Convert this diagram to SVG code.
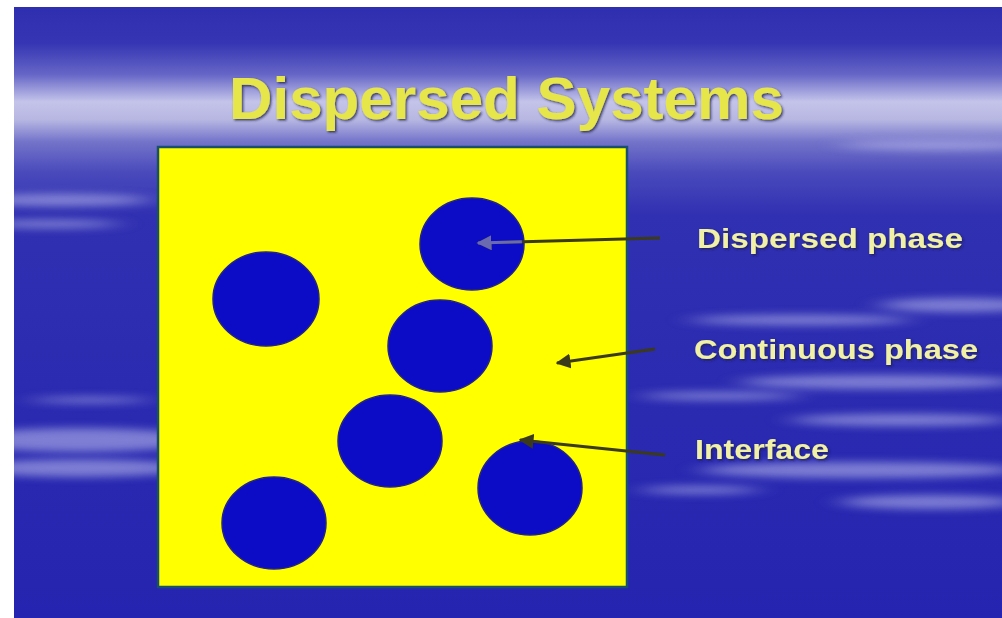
<svg xmlns="http://www.w3.org/2000/svg" width="1002" height="618" viewBox="0 0 1002 618">
  <defs>
    <linearGradient id="bg" x1="0" y1="0" x2="0" y2="1">
      <stop offset="0" stop-color="#2e2eb0"/>
      <stop offset="0.06" stop-color="#3636b4"/>
      <stop offset="0.11" stop-color="#6565c6"/>
      <stop offset="0.155" stop-color="#c4c4ea"/>
      <stop offset="0.185" stop-color="#b6b6e2"/>
      <stop offset="0.22" stop-color="#7474ca"/>
      <stop offset="0.27" stop-color="#4a4abc"/>
      <stop offset="0.34" stop-color="#3030b2"/>
      <stop offset="1" stop-color="#2424b0"/>
    </linearGradient>
    <filter id="blur" x="-30%" y="-300%" width="160%" height="700%">
      <feGaussianBlur stdDeviation="14 4"/>
    </filter>
    <filter id="shadow" x="-5%" y="-20%" width="110%" height="140%">
      <feDropShadow dx="1.5" dy="1.5" stdDeviation="1" flood-color="#202050" flood-opacity="0.8"/>
    </filter>
    <marker id="arrow" viewBox="0 0 10 10" refX="9" refY="5" markerWidth="5" markerHeight="5" orient="auto">
      <path d="M0,0 L10,5 L0,10 z" fill="#3b3a1a"/>
    </marker>
    <marker id="arrowGrey" viewBox="0 0 10 10" refX="9" refY="5" markerWidth="5" markerHeight="5" orient="auto">
      <path d="M0,0 L10,5 L0,10 z" fill="#6a6ab0"/>
    </marker>
    <clipPath id="clipTop">
      <ellipse cx="472" cy="244" rx="50" ry="44"/>
    </clipPath>
    <clipPath id="clipBg">
      <rect x="14" y="7" width="988" height="611"/>
    </clipPath>
  </defs>
  <style>
    .streak { fill: #b8b8ec; filter: url(#blur); }
    .dot { fill: #0c0cc6; stroke: #23238a; stroke-width: 1.5; }
    .label { font-family: "Liberation Sans", Arial, sans-serif; font-weight: bold; font-size: 27px; fill: #f0f0a6; filter: url(#shadow); }
    .title { font-family: "Liberation Sans", Arial, sans-serif; font-weight: bold; font-size: 60px; fill: #e6e64c; filter: url(#shadow); }
    .conn { fill: none; stroke: #3b3a1a; stroke-width: 3; marker-end: url(#arrow); }
  </style>

  <!-- background -->
  <rect x="0" y="0" width="1002" height="618" fill="#ffffff"/>
  <rect x="14" y="7" width="988" height="611" fill="url(#bg)"/>
  <g id="streaks" clip-path="url(#clipBg)">
    <g opacity="0.6">
      <ellipse class="streak" cx="60" cy="200" rx="90" ry="6"/>
      <ellipse class="streak" cx="50" cy="224" rx="70" ry="4"/>
      <ellipse class="streak" cx="80" cy="440" rx="120" ry="12"/>
      <ellipse class="streak" cx="80" cy="468" rx="110" ry="9"/>
      <ellipse class="streak" cx="90" cy="400" rx="60" ry="3"/>
      <ellipse class="streak" cx="960" cy="305" rx="80" ry="7"/>
      <ellipse class="streak" cx="800" cy="320" rx="110" ry="5"/>
      <ellipse class="streak" cx="880" cy="382" rx="140" ry="7"/>
      <ellipse class="streak" cx="720" cy="396" rx="80" ry="4"/>
      <ellipse class="streak" cx="900" cy="420" rx="110" ry="6"/>
      <ellipse class="streak" cx="860" cy="470" rx="160" ry="8"/>
      <ellipse class="streak" cx="930" cy="502" rx="90" ry="7"/>
      <ellipse class="streak" cx="700" cy="490" rx="60" ry="4"/>
      <ellipse class="streak" cx="940" cy="145" rx="100" ry="5"/>
    </g>
  </g>

  <!-- title -->
  <g id="title">
    <text class="title" x="229" y="119" textLength="555" lengthAdjust="spacingAndGlyphs">Dispersed Systems</text>
  </g>

  <!-- container -->
  <g id="continuous-phase">
    <rect x="158" y="147" width="469" height="440" fill="#ffff00" stroke="#1a4f6e" stroke-width="2.5"/>
  </g>

  <!-- dispersed droplets -->
  <g id="droplets">
    <ellipse id="drop1" class="dot" cx="472" cy="244" rx="52" ry="46"/>
    <ellipse id="drop2" class="dot" cx="266" cy="299" rx="53" ry="47"/>
    <ellipse id="drop3" class="dot" cx="440" cy="346" rx="52" ry="46"/>
    <ellipse id="drop4" class="dot" cx="390" cy="441" rx="52" ry="46"/>
    <ellipse id="drop5" class="dot" cx="530" cy="488" rx="52" ry="47"/>
    <ellipse id="drop6" class="dot" cx="274" cy="523" rx="52" ry="46"/>
  </g>

  <!-- connectors -->
  <g id="connectors">
    <path id="c-dispersed" class="conn" d="M660,238 L478,243"/>
    <path d="M660,238 L478,243" fill="none" stroke="#6a6ab0" stroke-width="3" marker-end="url(#arrowGrey)" clip-path="url(#clipTop)"/>
    <path id="c-continuous" class="conn" d="M655,349 L557,363"/>
    <path id="c-interface" class="conn" d="M665,455 L520,440"/>
  </g>

  <!-- labels -->
  <g id="label-dispersed">
    <text class="label" x="697" y="248" textLength="266" lengthAdjust="spacingAndGlyphs">Dispersed phase</text>
  </g>
  <g id="label-continuous">
    <text class="label" x="694" y="359" textLength="284" lengthAdjust="spacingAndGlyphs">Continuous phase</text>
  </g>
  <g id="label-interface">
    <text class="label" x="695" y="459" textLength="134" lengthAdjust="spacingAndGlyphs">Interface</text>
  </g>
</svg>
